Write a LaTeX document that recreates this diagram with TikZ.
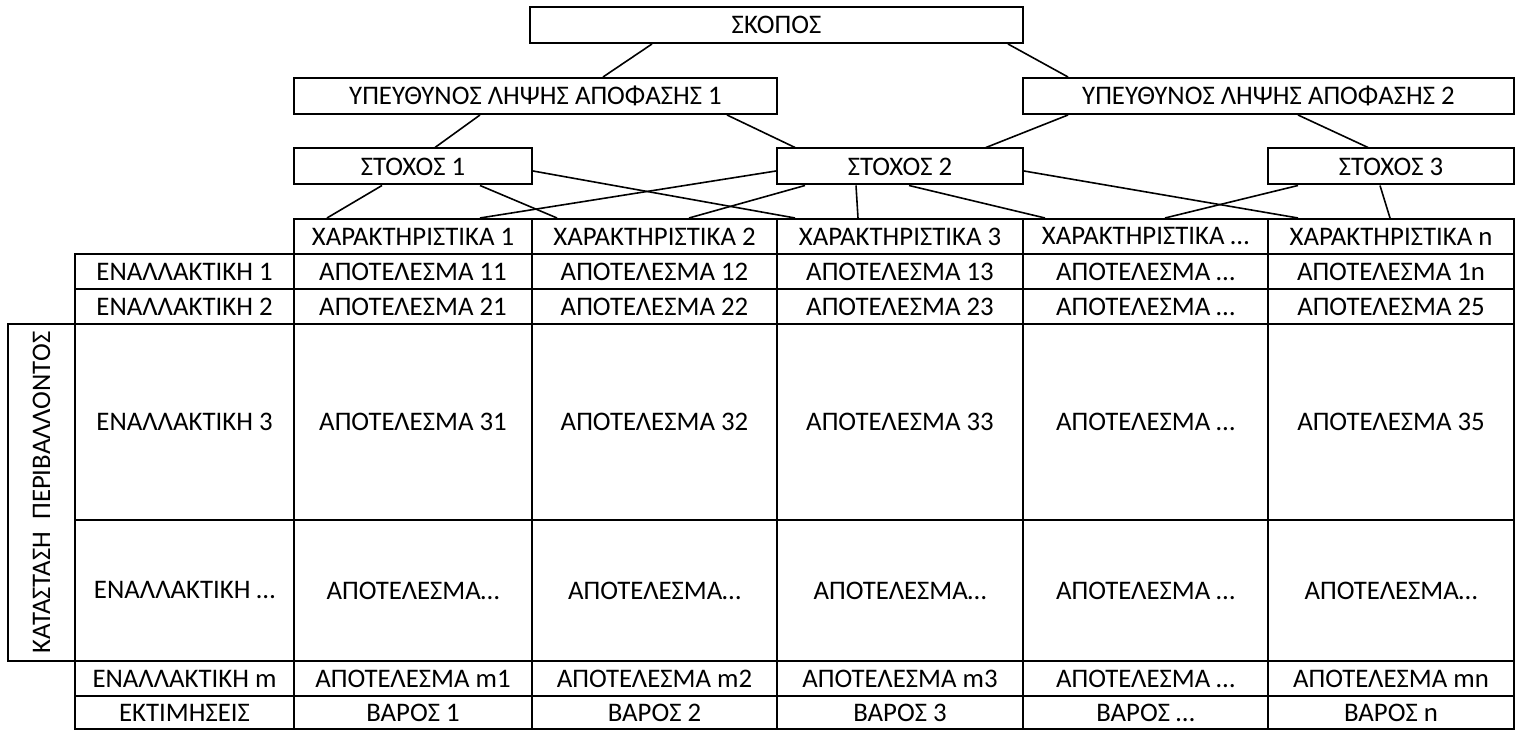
\documentclass[tikz,border=0pt]{standalone}
\usepackage{fontspec}
\setmainfont{Carlito}
\usetikzlibrary{calc}

\begin{document}
\begin{tikzpicture}[x=0.5pt, y=-0.5pt,
    every node/.style={font=\fontsize{13.4}{15}\selectfont},
    box/.style={draw, line width=1pt, inner sep=0pt, minimum height=18pt},
    cell/.style={draw, line width=1pt, inner sep=0pt, minimum height=17.5pt},
    link/.style={line width=0.8pt}]
    \useasboundingbox (0,0) rectangle (1521,731);

    % hierarchy
    \node[box, minimum width=246.5pt] (skopos) at (776.5,25) {ΣΚΟΠΟΣ};
    \node[box, minimum width=241.5pt] (dm1) at (535.5,96) {ΥΠΕΥΘΥΝΟΣ ΛΗΨΗΣ ΑΠΟΦΑΣΗΣ 1};
    \node[box, minimum width=245.5pt] (dm2) at (1268.5,96) {ΥΠΕΥΘΥΝΟΣ ΛΗΨΗΣ ΑΠΟΦΑΣΗΣ 2};
    \node[box, minimum width=119pt] (st1) at (413,166.5) {ΣΤΟΧΟΣ 1};
    \node[box, minimum width=123pt] (st2) at (900,166.5) {ΣΤΟΧΟΣ 2};
    \node[box, minimum width=123pt] (st3) at (1391,166.5) {ΣΤΟΧΟΣ 3};

    % header row
    \node[cell, minimum width=119pt] (h1) at (413,236.5) {ΧΑΡΑΚΤΗΡΙΣΤΙΚΑ 1};
    \node[cell, minimum width=122.5pt] (h2) at (654.5,236.5) {ΧΑΡΑΚΤΗΡΙΣΤΙΚΑ 2};
    \node[cell, minimum width=123pt] (h3) at (900,236.5) {ΧΑΡΑΚΤΗΡΙΣΤΙΚΑ 3};
    \node[cell, minimum width=122.5pt] (h4) at (1145.5,236.5) {ΧΑΡΑΚΤΗΡΙΣΤΙΚΑ …};
    \node[cell, minimum width=123pt] (h5) at (1391,236.5) {ΧΑΡΑΚΤΗΡΙΣΤΙΚΑ n};

    % alternative 1
    \node[cell, minimum width=109.5pt] (alt1) at (184.5,271.5) {ΕΝΑΛΛΑΚΤΙΚΗ 1};
    \node[cell, minimum width=119pt] (r11) at (413,271.5) {ΑΠΟΤΕΛΕΣΜΑ 11};
    \node[cell, minimum width=122.5pt] (r12) at (654.5,271.5) {ΑΠΟΤΕΛΕΣΜΑ 12};
    \node[cell, minimum width=123pt] (r13) at (900,271.5) {ΑΠΟΤΕΛΕΣΜΑ 13};
    \node[cell, minimum width=122.5pt] (r14) at (1145.5,271.5) {ΑΠΟΤΕΛΕΣΜΑ …};
    \node[cell, minimum width=123pt] (r15) at (1391,271.5) {ΑΠΟΤΕΛΕΣΜΑ 1n};

    % alternative 2
    \node[cell, minimum width=109.5pt] (alt2) at (184.5,306.5) {ΕΝΑΛΛΑΚΤΙΚΗ 2};
    \node[cell, minimum width=119pt] (r21) at (413,306.5) {ΑΠΟΤΕΛΕΣΜΑ 21};
    \node[cell, minimum width=122.5pt] (r22) at (654.5,306.5) {ΑΠΟΤΕΛΕΣΜΑ 22};
    \node[cell, minimum width=123pt] (r23) at (900,306.5) {ΑΠΟΤΕΛΕΣΜΑ 23};
    \node[cell, minimum width=122.5pt] (r24) at (1145.5,306.5) {ΑΠΟΤΕΛΕΣΜΑ …};
    \node[cell, minimum width=123pt] (r25) at (1391,306.5) {ΑΠΟΤΕΛΕΣΜΑ 25};

    % alternative 3
    \node[cell, minimum height=98pt, minimum width=109.5pt] (alt3) at (184.5,422) {ΕΝΑΛΛΑΚΤΙΚΗ 3};
    \node[cell, minimum height=98pt, minimum width=119pt] (r31) at (413,422) {ΑΠΟΤΕΛΕΣΜΑ 31};
    \node[cell, minimum height=98pt, minimum width=122.5pt] (r32) at (654.5,422) {ΑΠΟΤΕΛΕΣΜΑ 32};
    \node[cell, minimum height=98pt, minimum width=123pt] (r33) at (900,422) {ΑΠΟΤΕΛΕΣΜΑ 33};
    \node[cell, minimum height=98pt, minimum width=122.5pt] (r34) at (1145.5,422) {ΑΠΟΤΕΛΕΣΜΑ …};
    \node[cell, minimum height=98pt, minimum width=123pt] (r35) at (1391,422) {ΑΠΟΤΕΛΕΣΜΑ 35};

    % alternative ...
    \node[cell, minimum height=70.5pt, minimum width=109.5pt] (alt4) at (184.5,590.5) {ΕΝΑΛΛΑΚΤΙΚΗ …};
    \node[cell, minimum height=70.5pt, minimum width=119pt] (r41) at (413,590.5) {ΑΠΟΤΕΛΕΣΜΑ…};
    \node[cell, minimum height=70.5pt, minimum width=122.5pt] (r42) at (654.5,590.5) {ΑΠΟΤΕΛΕΣΜΑ…};
    \node[cell, minimum height=70.5pt, minimum width=123pt] (r43) at (900,590.5) {ΑΠΟΤΕΛΕΣΜΑ…};
    \node[cell, minimum height=70.5pt, minimum width=122.5pt] (r44) at (1145.5,590.5) {ΑΠΟΤΕΛΕΣΜΑ …};
    \node[cell, minimum height=70.5pt, minimum width=123pt] (r45) at (1391,590.5) {ΑΠΟΤΕΛΕΣΜΑ…};

    % alternative m
    \node[cell, minimum width=109.5pt] (altm) at (184.5,678.5) {ΕΝΑΛΛΑΚΤΙΚΗ m};
    \node[cell, minimum width=119pt] (rm1) at (413,678.5) {ΑΠΟΤΕΛΕΣΜΑ m1};
    \node[cell, minimum width=122.5pt] (rm2) at (654.5,678.5) {ΑΠΟΤΕΛΕΣΜΑ m2};
    \node[cell, minimum width=123pt] (rm3) at (900,678.5) {ΑΠΟΤΕΛΕΣΜΑ m3};
    \node[cell, minimum width=122.5pt] (rm4) at (1145.5,678.5) {ΑΠΟΤΕΛΕΣΜΑ …};
    \node[cell, minimum width=123pt] (rm5) at (1391,678.5) {ΑΠΟΤΕΛΕΣΜΑ mn};

    % weights
    \node[cell, minimum height=16.5pt, minimum width=109.5pt] (est) at (184.5,712.5) {ΕΚΤΙΜΗΣΕΙΣ};
    \node[cell, minimum height=16.5pt, minimum width=119pt] (w1) at (413,712.5) {ΒΑΡΟΣ 1};
    \node[cell, minimum height=16.5pt, minimum width=122.5pt] (w2) at (654.5,712.5) {ΒΑΡΟΣ 2};
    \node[cell, minimum height=16.5pt, minimum width=123pt] (w3) at (900,712.5) {ΒΑΡΟΣ 3};
    \node[cell, minimum height=16.5pt, minimum width=122.5pt] (w4) at (1145.5,712.5) {ΒΑΡΟΣ …};
    \node[cell, minimum height=16.5pt, minimum width=123pt] (w5) at (1391,712.5) {ΒΑΡΟΣ n};

    % state of the environment
    \node[cell, rotate=90, minimum width=168.5pt, minimum height=33.5pt] (state) at (41.5,492.5) {ΚΑΤΑΣΤΑΣΗ\ \ ΠΕΡΙΒΑΛΛΟΝΤΟΣ};

    % links
    \draw[link] ($(skopos.south)+(-124.5,0)$) -- ($(dm1.north)+(67.5,0)$);
    \draw[link] ($(skopos.south)+(231.5,0)$) -- ($(dm2.north)+(-200.5,0)$);
    \draw[link] ($(dm1.south)+(-55.5,0)$) -- ($(st1.north)+(22,0)$);
    \draw[link] ($(dm1.south)+(191.5,0)$) -- ($(st2.north)+(-105,0)$);
    \draw[link] ($(dm2.south)+(-200.5,0)$) -- ($(st2.north)+(86,0)$);
    \draw[link] ($(dm2.south)+(29.5,0)$) -- ($(st3.north)+(-23,0)$);
    \draw[link] ($(st1.south)+(-31,0)$) -- ($(h1.north)+(-86,0)$);
    \draw[link] ($(st1.south)+(67,0)$) -- ($(h2.north)+(-97.5,0)$);
    \draw[link] ($(st1.east)+(0,4.5)$) -- ($(h3.north)+(-105,0)$);
    \draw[link] ($(st2.west)+(0,4.5)$) -- ($(h1.north)+(67,0)$);
    \draw[link] ($(st2.south)+(-95,0)$) -- ($(h2.north)+(34.5,0)$);
    \draw[link] ($(st2.south)+(-44,0)$) -- ($(h3.north)+(-42,0)$);
    \draw[link] ($(st2.south)+(9,0)$) -- ($(h4.north)+(-100.5,0)$);
    \draw[link] ($(st2.east)+(0,4.5)$) -- ($(h5.north)+(-93,0)$);
    \draw[link] ($(st3.south)+(-93,0)$) -- ($(h4.north)+(19.5,0)$);
    \draw[link] ($(st3.south)+(-11,0)$) -- ($(h5.north)+(-1,0)$);
\end{tikzpicture}
\end{document}
